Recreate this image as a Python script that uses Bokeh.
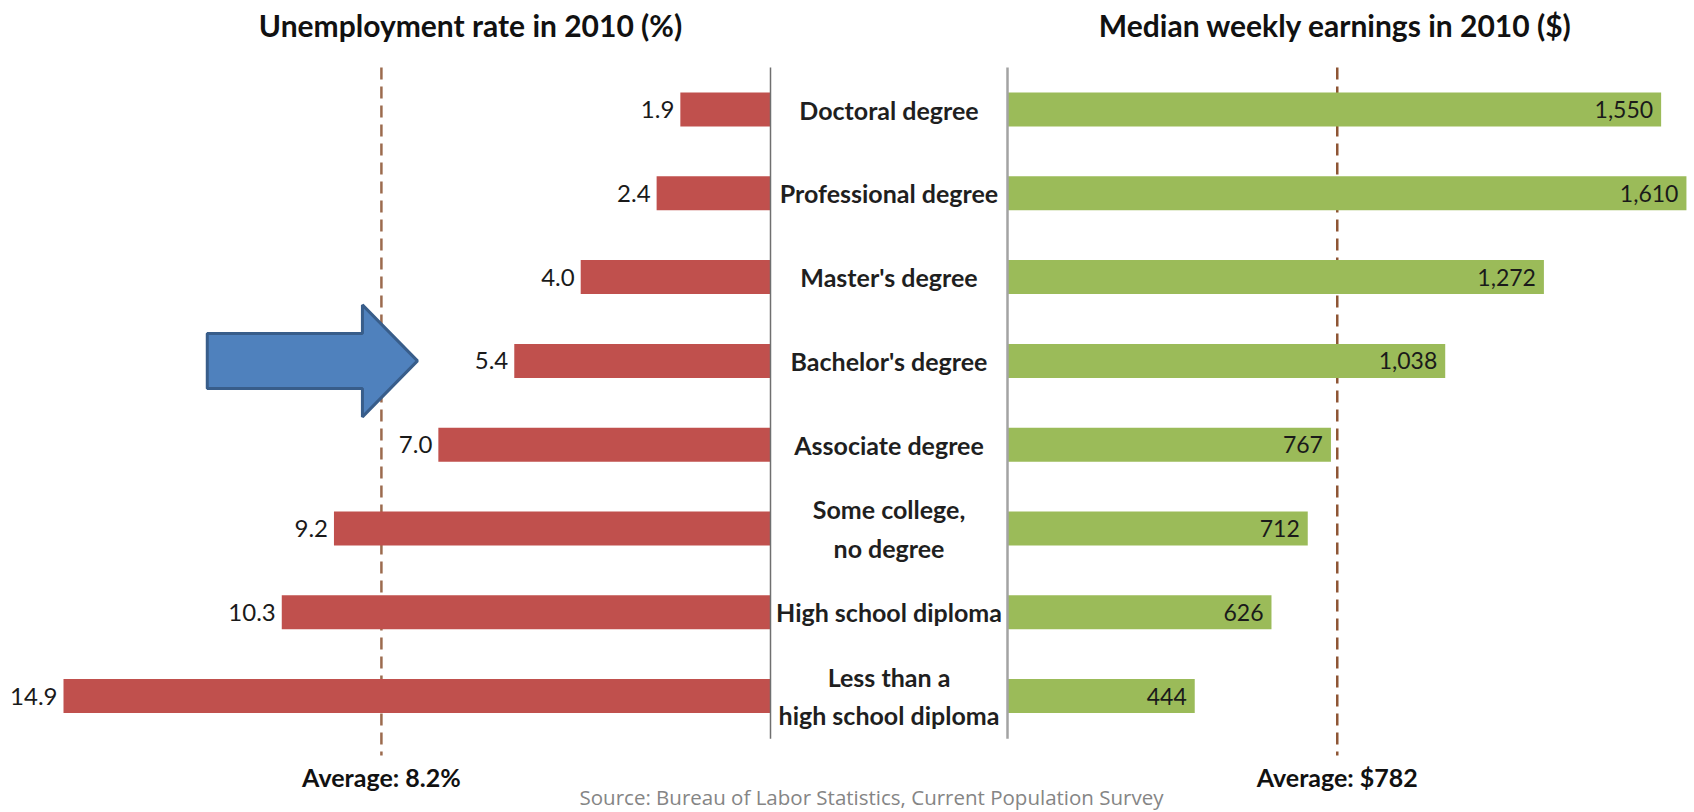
from bokeh.plotting import figure
from bokeh.models import Range1d, ColumnDataSource
from bokeh.core.properties import value
from bokeh.embed import file_html
from bokeh.resources import INLINE

# ---- data ----
categories = ["Doctoral degree", "Professional degree", "Master's degree", "Bachelor's degree",
              "Associate degree", "Some college,\nno degree", "High school diploma",
              "Less than a\nhigh school diploma"]
unemployment = [1.9, 2.4, 4.0, 5.4, 7.0, 9.2, 10.3, 14.9]
earnings = [1550, 1610, 1272, 1038, 767, 712, 626, 444]
avg_unemployment = 8.2
avg_earnings = 782
title_left = "Unemployment rate in 2010 (%)"
title_right = "Median weekly earnings in 2010 ($)"
source_note = "Source: Bureau of Labor Statistics, Current Population Survey"
highlight = "Bachelor's degree"

FONT = "Lato"
W, H = 1694, 812
rows = list(range(len(categories)))

# ---- layout (pixel-based ranges) ----
center_left, center_right = 770, 1007
u_scale = 47.45      # px per percentage point
e_scale = 0.4217     # px per dollar
row_top, row_pitch = 109, 83.8

p = figure(width=W, height=H, output_backend="svg", toolbar_location=None,
           x_range=Range1d(0, W), y_range=Range1d((H - row_top) / row_pitch, -row_top / row_pitch),
           min_border=0, min_border_left=0, min_border_right=0, min_border_top=0, min_border_bottom=0)
p.extra_x_ranges = {
    "unemp": Range1d(center_left / u_scale, (center_left - W) / u_scale),
    "earn": Range1d(-center_right / e_scale, (W - center_right) / e_scale),
}
p.axis.visible = False
p.xgrid.visible = False
p.ygrid.visible = False
p.outline_line_color = None
p.background_fill_color = "white"
p.border_fill_color = "white"

src = ColumnDataSource(dict(
    row=rows, cat=categories, u=unemployment, e=earnings,
    ulab=[f"{v:.1f}" for v in unemployment],
    elab=[f"{v:,}" for v in earnings],
))

bar_h = 34 / row_pitch
y_top = -42 / row_pitch

# average dashed lines
p.segment(x0=[avg_unemployment], x1=[avg_unemployment], y0=[y_top], y1=[7.709],
          x_range_name="unemp", line_color="#9C6B4E", line_width=2.5, line_dash="12 7")
p.segment(x0=[avg_earnings], x1=[avg_earnings], y0=[y_top], y1=[7.709],
          x_range_name="earn", line_color="#8E5534", line_width=2.5, line_dash="12 7")

# bars
p.hbar(y="row", left=0, right="u", height=bar_h, source=src, x_range_name="unemp",
       fill_color="#C0504D", line_color=None)
p.hbar(y="row", left=0, right="e", height=bar_h, source=src, x_range_name="earn",
       fill_color="#9BBB59", line_color=None)

# center divider lines
p.segment(x0=[0], x1=[0], y0=[y_top], y1=[7.51], x_range_name="unemp",
          line_color="#6f6f6f", line_width=1.5)
p.segment(x0=[0], x1=[0], y0=[y_top], y1=[7.51], x_range_name="earn",
          line_color="#a3a3a3", line_width=2.5)

# value labels
p.text(x="u", y="row", text="ulab", source=src, x_range_name="unemp", x_offset=-6,
       text_align="right", text_baseline="middle", text_font=value(FONT),
       text_font_size="24px", text_color="#1a1a1a")
p.text(x="e", y="row", text="elab", source=src, x_range_name="earn", x_offset=-8,
       text_align="right", text_baseline="middle", text_font=value(FONT),
       text_font_size="23px", text_color="#1a1a1a")

# category labels
p.text(x=(center_left + center_right) / 2, y="row", text="cat", source=src,
       text_align="center", text_baseline="middle", text_font=value(FONT),
       text_font_style="bold", text_font_size="25px", text_color="#1f1f1f",
       text_line_height=1.28)

# titles
p.text(x=[470, 1335], y=[-1.014, -1.014], text=[title_left, title_right],
       text_align="center", text_baseline="middle", text_font=value(FONT),
       text_font_style="bold", text_font_size="30px", text_color="#111111")

# average labels
p.text(x=[avg_unemployment], y=[7.97], text=[f"Average: {avg_unemployment}%"],
       x_range_name="unemp", text_align="center", text_baseline="middle",
       text_font=value(FONT), text_font_style="bold", text_font_size="25px", text_color="#111111")
p.text(x=[avg_earnings], y=[7.97], text=[f"Average: ${avg_earnings}"],
       x_range_name="earn", text_align="center", text_baseline="middle",
       text_font=value(FONT), text_font_style="bold", text_font_size="25px", text_color="#111111")

# source
p.text(x=[871], y=[8.205], text=[source_note], text_align="center", text_baseline="middle",
       text_font=value("Open Sans"), text_font_size="20.5px", text_color="#858585")

# highlight arrow pointing to the highlighted row (in unemployment units / row units)
hr = categories.index(highlight)
tip, base, tail = 7.44, 8.60, 11.87
sh, hh = 0.328, 0.668
p.patch(x=[tail, base, base, tip, base, base, tail],
        y=[hr - sh, hr - sh, hr - hh, hr, hr + hh, hr + sh, hr + sh],
        x_range_name="unemp", fill_color="#4F81BD", line_color="#385D8A", line_width=3)

open("out.html", "w").write(file_html(p, INLINE))
